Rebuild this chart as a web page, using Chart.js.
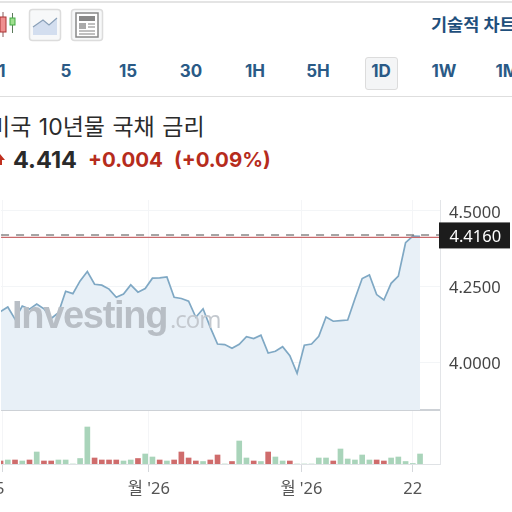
<!DOCTYPE html>
<html><head><meta charset="utf-8">
<script src="https://cdn.jsdelivr.net/npm/chart.js@4/dist/chart.umd.min.js"></script>
<style>
html,body{margin:0;padding:0;background:#fff;width:512px;height:512px;overflow:hidden}
body{position:relative;font-family:Inter,"Noto Sans CJK KR",sans-serif}
.a{position:absolute;white-space:nowrap;line-height:1}
.tf{top:63px;font-size:17px;font-weight:700;color:#2a5a86;transform:translateX(-50%)}
canvas{position:absolute;left:-5px;top:0}
</style></head><body>
<div class="a" style="left:0;top:1px;width:512px;height:2px;background:#e4e4e4"></div>
<svg class="a" style="left:0;top:8px" width="106" height="36" viewBox="0 0 106 36">
 <path d="M3 4V29" stroke="#8a5a5a"/><rect x="0" y="9" width="6" height="15" fill="#ef8f8f" stroke="#a33"/>
 <path d="M12.500 5V25" stroke="#5a7a5a"/><rect x="10" y="10" width="5" height="7" fill="#9fe08f" stroke="#4a4"/>
 <rect x="29.500" y="1.500" width="31" height="31" rx="3" fill="#f7f8f9" stroke="#dcdcdc" stroke-width="1.500"/>
 <path d="M33 19L43 12L49 17L57 10V27H33Z" fill="#d3deef"/><path d="M33 19L43 12L49 17L57 10" fill="none" stroke="#8aa0b8" stroke-width="1.200"/>
 <rect x="71.500" y="1.500" width="31" height="31" rx="3" fill="#f7f8f9" stroke="#dcdcdc" stroke-width="1.500"/>
 <rect x="76" y="5" width="22" height="24" fill="#fff" stroke="#888" stroke-width="1.500"/>
 <rect x="79" y="8" width="16" height="5" fill="#888"/><rect x="79" y="15" width="7" height="6" fill="#aaa"/>
 <path d="M88 16H95M88 19H95M79 23H95M79 26H95" stroke="#aaa" stroke-width="1.300"/>
</svg>
<div class="a" style="left:431px;top:16px;font-size:17.500px;font-weight:700;color:#1f4f7c">기술적 차트</div>
<div class="a tf" style="left:2px">1</div><div class="a tf" style="left:66px">5</div>
<div class="a tf" style="left:128px">15</div><div class="a tf" style="left:191px">30</div>
<div class="a tf" style="left:255px">1H</div><div class="a tf" style="left:318px">5H</div>
<div class="a" style="left:365px;top:57px;width:31px;height:31px;background:#f4f5f6;border:1px solid #dcdcdc;border-radius:3px"></div>
<div class="a tf" style="left:381px">1D</div><div class="a tf" style="left:444px">1W</div><div class="a tf" style="left:507px">1M</div>
<div class="a" style="left:0;top:96px;width:512px;height:1px;background:#dedede"></div>
<div class="a" style="left:-11px;top:116px;font-size:23px;word-spacing:1px;color:#2b2b2b;font-family:Inter,'Noto Sans CJK KR'">미국 10년물 국채 금리</div>
<svg class="a" style="left:0;top:154px" width="6" height="12"><path d="M-5 6L0 0L5 6H2V11H-2V6Z" fill="#c0301f"/></svg>
<div class="a" style="left:13px;top:148px;font-size:23.500px;font-weight:700;color:#2a2a2a">4.414</div>
<div class="a" style="left:88px;top:150px;font-size:20.500px;font-weight:700;color:#b62c1c">+0.004</div>
<div class="a" style="left:174px;top:150px;font-size:20.500px;font-weight:700;color:#b62c1c">(+0.09%)</div>
<canvas id="c" width="517" height="512"></canvas>
<div class="a" style="left:12px;top:296px;font-size:38px;font-weight:700;letter-spacing:-1.300px;color:#b8bec5;font-family:'Liberation Sans'">Investing</div>
<div class="a" style="left:170px;top:307px;font-size:24px;letter-spacing:-1px;color:#c3c8ce;font-family:'Open Sans'">.com</div>
<div class="a" style="left:-5px;top:480px;font-size:16.500px;color:#555;font-family:'Noto Sans'">5</div>
<script>
const yields = [4.168,4.183,4.143,4.186,4.176,4.193,4.177,4.145,4.164,4.235,4.227,4.269,4.300,4.258,4.255,4.242,4.215,4.226,4.256,4.232,4.244,4.278,4.279,4.282,4.215,4.211,4.202,4.149,4.177,4.116,4.061,4.059,4.047,4.060,4.085,4.079,4.090,4.031,4.037,4.052,4.022,3.964,4.057,4.061,4.086,4.150,4.136,4.138,4.140,4.210,4.277,4.289,4.224,4.206,4.261,4.285,4.395,4.417,4.416];
const volumes = [3,4,4,3,4,12,3,3,4,4,0,5.500,37,6,4,4,4,3,4,5.500,10,7,4,3,4,12,6,3,2.500,4,9,0,2.500,23,6,3,2.500,12,7,3,3,0,0,0,6,6,3,15,5,4,9,4,4,3,6,7,2.500,0.500,10];
const volumeDirs = ["d","u","d","u","d","u","d","d","u","u","u","u","u","d","d","d","d","u","u","d","u","u","d","u","d","d","d","d","u","d","d","u","d","u","u","d","u","d","u","u","d","u","u","u","u","u","d","u","u","u","u","u","d","d","u","u","u","u","u"];
const tickPositions = [0.2,20.5,41.6,57];
const tickLabels = ["","월 '26","월 '26","22"];
const priceTicks = [4.5,4.25,4.0];
const lastPriceLabel = "4.4160";
const lastPrice = 4.4125, prevLevel = 4.4205, panelFloor = 3.843;
const xMin = 0.07, xMax = 60.76;
const pts = a => a.map((v,i)=>({x:i,y:v}));
const span = v => [{x:xMin,y:v},{x:xMax,y:v}];
const lastBox = {id:'lastBox',afterDraw(ch){
  const c=ch.ctx,y=ch.scales.y.getPixelForValue(lastPrice)-2,r=ch.chartArea.right;
  c.save();c.fillStyle='#1c1c1c';c.fillRect(r-1,y-13,71,26);
  c.fillStyle='#fff';c.font='16.5px "Noto Sans"';c.textBaseline='middle';c.fillText(lastPriceLabel,r+9.5,y+2);c.restore();
}};
new Chart(document.getElementById('c'),{
 type:'bar',
 data:{datasets:[
  {type:'line',data:span(panelFloor),borderColor:'#cdd1d6',borderWidth:2,pointRadius:0,order:3,yAxisID:'y'},
  {type:'line',data:pts(yields),borderColor:'#7fa8c4',borderWidth:1.700,pointRadius:0,tension:0,
   fill:{value:panelFloor},backgroundColor:'#e8f0f7',order:2,yAxisID:'y'},
  {type:'line',data:span(prevLevel),borderColor:'#4a4a4a',borderWidth:1,borderDash:[8,7],pointRadius:0,order:1,yAxisID:'y'},
  {type:'line',data:span(lastPrice),borderColor:'#c9696b',borderWidth:1.300,pointRadius:0,order:0,yAxisID:'y'},
  {type:'bar',data:pts(volumes),yAxisID:'v',barThickness:5,order:4,
   backgroundColor:volumeDirs.map(d=>d==='u'?'#a9d4ba':'#cf6c6c')}
 ]},
 options:{
  responsive:false,animation:false,
  layout:{autoPadding:false,padding:{top:200,left:0,right:0,bottom:0}},
  plugins:{legend:{display:false},tooltip:{enabled:false}},
  scales:{
   x:{type:'linear',min:xMin,max:xMax,offset:false,
    afterBuildTicks(s){s.ticks=tickPositions.map(v=>({value:v}));},
    afterFit(s){s.height=48;},
    grid:{offset:false,color:'#f4f5f7',tickColor:'#d5d8dc',tickLength:8,drawTicks:true},
    border:{color:'#dfe2e5'},
    ticks:{autoSkip:false,maxRotation:0,padding:7,color:'#555',
      font:{size:16.500,family:'"Noto Sans","Noto Sans CJK KR"'},
      callback:v=>tickLabels[tickPositions.indexOf(v)]}},
   y:{position:'right',min:3.665,max:4.536,
    afterBuildTicks(s){s.ticks=priceTicks.map(v=>({value:v}));},
    afterFit(s){s.width=72;},
    grid:{color:'#f3f5f7',drawTicks:false},
    border:{color:'#e3e5e8'},
    ticks:{padding:9,labelOffset:2,color:'#444',font:{size:16.500,family:'"Noto Sans"'},callback:v=>v.toFixed(4)}},
   v:{display:false,min:0,max:264}
  }
 },
 plugins:[lastBox]
});
</script>
</body></html>
